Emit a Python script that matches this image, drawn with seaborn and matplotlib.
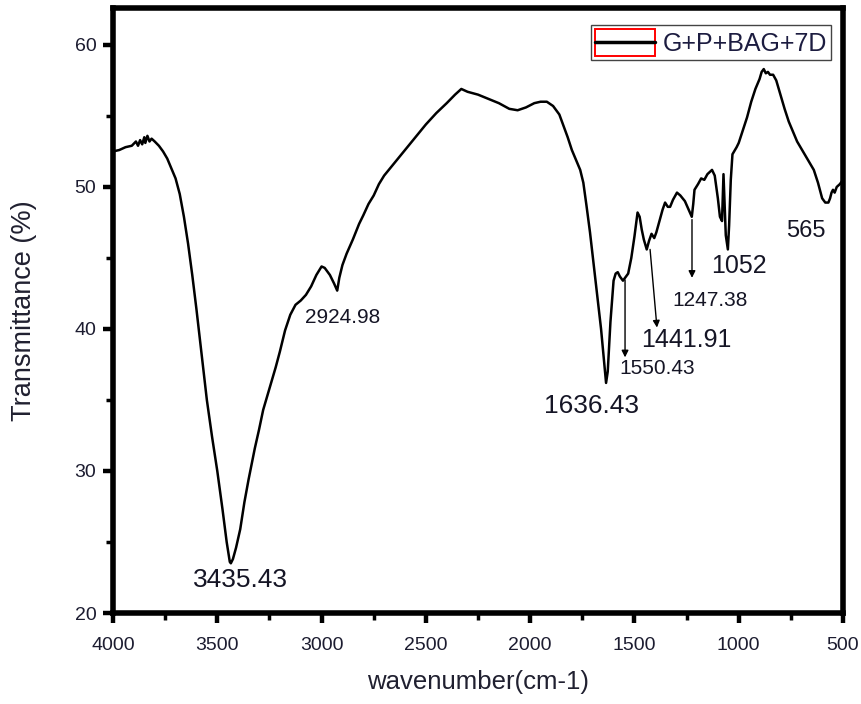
import matplotlib
matplotlib.use("Agg")
import matplotlib.pyplot as plt
import seaborn as sns
import pandas as pd
from matplotlib.legend_handler import HandlerBase
from matplotlib.patches import Rectangle
from matplotlib.lines import Line2D
from matplotlib.ticker import MultipleLocator

wavenumber = [4000, 3970, 3940, 3910, 3890, 3880, 3870, 3860, 3850, 3845, 3835, 3825, 3815, 3800,
              3780, 3760, 3740, 3720, 3700, 3680, 3660, 3640, 3620, 3600, 3575, 3550, 3525, 3500,
              3475, 3455, 3440, 3435, 3425, 3410, 3390, 3370, 3350, 3320, 3300, 3280, 3250, 3220,
              3200, 3175, 3150, 3125, 3100, 3075, 3050, 3025, 3000, 2985, 2960, 2940, 2925, 2915,
              2900, 2880, 2850, 2820, 2800, 2775, 2750, 2725, 2700, 2650, 2600, 2550, 2500, 2450,
              2400, 2360, 2330, 2300, 2250, 2200, 2150, 2100, 2060, 2020, 1980, 1950, 1920, 1890,
              1860, 1840, 1820, 1800, 1780, 1760, 1745, 1730, 1713, 1695, 1675, 1660, 1645, 1636,
              1628, 1615, 1600, 1590, 1580, 1570, 1555, 1545, 1530, 1515, 1500, 1485, 1475, 1465,
              1455, 1441, 1430, 1418, 1405, 1395, 1380, 1365, 1353, 1340, 1329, 1315, 1296, 1280,
              1258, 1240, 1225, 1218, 1212, 1195, 1180, 1165, 1150, 1128, 1115, 1100, 1090, 1080,
              1073, 1068, 1062, 1052, 1046, 1038, 1030, 1010, 1000, 980, 960, 940, 920, 900, 890,
              880, 870, 860, 850, 835, 820, 810, 800, 780, 760, 740, 720, 700, 680, 660, 640, 620,
              600, 585, 570, 562, 555, 548, 540, 530, 515, 500]
transmittance = [52.5, 52.6, 52.8, 52.9, 53.2, 52.9, 53.3, 53.0, 53.5, 53.1, 53.6, 53.2, 53.4, 53.2,
                 52.9, 52.5, 52.0, 51.3, 50.6, 49.5, 47.9, 46.0, 43.8, 41.4, 38.2, 35.0, 32.4, 30.0,
                 27.3, 25.0, 23.6, 23.5, 23.8, 24.6, 25.9, 27.8, 29.4, 31.6, 32.9, 34.3, 35.8, 37.3,
                 38.4, 39.9, 41.0, 41.7, 42.0, 42.4, 43.0, 43.8, 44.4, 44.3, 43.8, 43.2, 42.7, 43.6,
                 44.5, 45.3, 46.3, 47.4, 48.0, 48.8, 49.4, 50.2, 50.8, 51.7, 52.6, 53.5, 54.4, 55.2,
                 55.9, 56.5, 56.9, 56.7, 56.5, 56.2, 55.9, 55.5, 55.4, 55.6, 55.9, 56.0, 56.0, 55.7,
                 55.1, 54.3, 53.5, 52.6, 51.9, 51.2, 50.3, 48.7, 46.8, 44.5, 42.0, 40.0, 37.6, 36.2,
                 37.0, 40.5, 43.4, 43.9, 44.0, 43.7, 43.4, 43.6, 43.9, 45.0, 46.5, 48.2, 47.9, 47.0,
                 46.3, 45.6, 46.2, 46.7, 46.4, 46.8, 47.6, 48.4, 48.9, 48.6, 48.6, 49.1, 49.6, 49.4,
                 49.0, 48.4, 47.9, 48.8, 49.8, 50.2, 50.6, 50.5, 50.9, 51.2, 50.8, 49.2, 47.9, 47.6,
                 50.9, 49.0, 46.6, 45.6, 47.3, 50.5, 52.3, 52.8, 53.1, 54.0, 54.9, 56.0, 56.9, 57.6, 58.1,
                 58.3, 58.0, 58.1, 57.9, 57.9, 57.5, 57.0, 56.5, 55.5, 54.6, 53.9, 53.2, 52.7, 52.2, 51.7, 51.2, 50.3,
                 49.2, 48.9, 48.9, 49.2, 49.6, 49.8, 49.6, 50.0, 50.2, 50.5]

peak_labels = ["3435.43", "2924.98", "1636.43", "1550.43", "1441.91", "1247.38", "1052", "565"]
label_x = [3390, 2897, 1706, 1393, 1250, 1138, 999, 677]
label_y = [22.3, 40.8, 34.6, 37.2, 39.2, 42.0, 44.4, 46.9]
label_size = [19, 15, 19, 15, 18, 15, 18, 17]

arrow_x0 = [1545, 1425, 1224]
arrow_y0 = [43.45, 45.6, 47.7]
arrow_x1 = [1545, 1392, 1224]
arrow_y1 = [38.0, 40.1, 43.6]

series_name = "G+P+BAG+7D"

sns.set_style("white")
plt.rcParams['font.family'] = ['Liberation Sans', 'DejaVu Sans']

df = pd.DataFrame({"wavenumber": wavenumber, "T": transmittance})

fig = plt.figure(figsize=(8.61, 7.04), dpi=100)
ax = fig.add_axes([113/861, 1 - 613/704, (843 - 113)/861, (613 - 8)/704])

sns.lineplot(data=df, x="wavenumber", y="T", ax=ax, color="black", linewidth=1.8,
             label=series_name, sort=False)

ax.set_xlim(4000, 500)
ax.set_ylim(20, 62.6)
ax.xaxis.set_major_locator(MultipleLocator(500))
ax.xaxis.set_minor_locator(MultipleLocator(250))
ax.yaxis.set_major_locator(MultipleLocator(10))
ax.yaxis.set_minor_locator(MultipleLocator(5))

tick_color = "#1c1c30"
ax.tick_params(axis="both", which="major", direction="out", length=7, width=3.2,
               labelsize=14, labelcolor=tick_color, color="black", pad=5,
               bottom=True, left=True)
ax.tick_params(axis="both", which="minor", direction="out", length=5, width=2.5,
               color="black", bottom=True, left=True)
ax.tick_params(axis="x", pad=10)

for side in ["left", "right", "top", "bottom"]:
    ax.spines[side].set_linewidth(4.0)
    ax.spines[side].set_color("black")

ax.set_xlabel("wavenumber(cm-1)", fontsize=18.5, color="#202030", labelpad=12)
ax.set_ylabel("Transmittance (%)", fontsize=19.5, color="#202030", labelpad=27)

for txt, lx, ly, fs in zip(peak_labels, label_x, label_y, label_size):
    ax.text(lx, ly, txt, fontsize=fs, color="#151525", ha="center", va="center")

for x0, y0, x1, y1 in zip(arrow_x0, arrow_y0, arrow_x1, arrow_y1):
    ax.annotate("", xy=(x1, y1), xytext=(x0, y0),
                arrowprops=dict(arrowstyle="-|>", color="black", lw=1.0,
                                mutation_scale=10, shrinkA=0, shrinkB=0))


class BoxedLineHandler(HandlerBase):
    def create_artists(self, legend, orig_handle, xdescent, ydescent, width, height,
                       fontsize, trans):
        rect = Rectangle((-xdescent, -ydescent), width, height, fill=False,
                         edgecolor="red", linewidth=1.4, transform=trans)
        yc = -ydescent + height / 2
        line = Line2D([-xdescent, -xdescent + width], [yc, yc], color="black",
                      linewidth=2.5, transform=trans)
        return [rect, line]


handles, labels = ax.get_legend_handles_labels()
leg = ax.legend(handles, labels, loc="upper right", bbox_to_anchor=(0.983, 0.972),
                handler_map={handles[0]: BoxedLineHandler()},
                fontsize=18, frameon=True, fancybox=False, edgecolor="#444444",
                framealpha=1, borderpad=0.15, handlelength=2.4, handleheight=1.3,
                handletextpad=0.3, borderaxespad=0)
leg.get_frame().set_linewidth(1.0)
for t in leg.get_texts():
    t.set_color("#1c1c40")

fig.savefig("out.png", dpi=100)
